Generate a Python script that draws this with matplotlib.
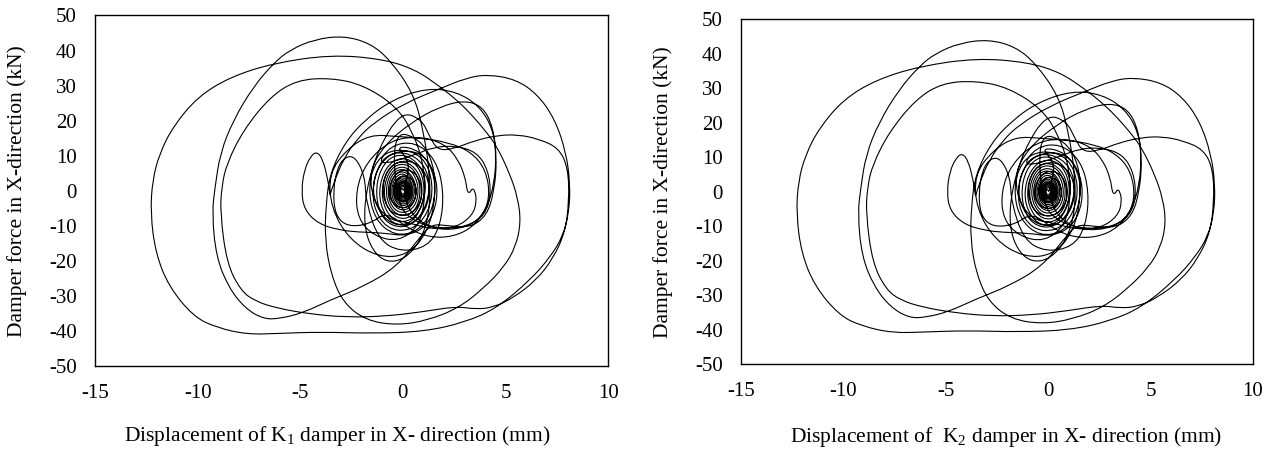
import numpy as np
import matplotlib
matplotlib.use("Agg")
import matplotlib.pyplot as plt
from matplotlib.path import Path
from matplotlib.patches import PathPatch

plt.rcParams["font.family"] = ["Liberation Serif", "DejaVu Serif"]
plt.rcParams["mathtext.fontset"] = "custom"
plt.rcParams["mathtext.rm"] = "Liberation Serif"
plt.rcParams["mathtext.default"] = "regular"
plt.rcParams["axes.unicode_minus"] = False

# displacement (mm) / force (kN) history, read off in pieces
# small cycles growing out of the origin
disp_growth = [0, 0.1, 0.25, 0.15, -0.1, -0.3, -0.2,
               0.05, 0.35, 0.45, 0.2, -0.3, -0.5, -0.35,
               0.05, 0.55, 0.7, 0.4, -0.25, -0.7, -0.6,
               -0.1, 0.6, 0.95, 0.85, 0.25, -0.6, -1.0, -0.9,
               -0.3, 0.7, 1.3, 1.25, 0.6, -0.5, -1.3, -1.5, -1.1,
               -0.3, 0.9, 1.6, 1.7, 1.2, 0.2, -1.0]
force_growth = [0, 1.2, 0.2, -1.3, -1.6, -0.2, 1.8,
                2.8, 1.6, -1.2, -3.0, -2.8, 0.0, 3.0,
                4.6, 3.0, -1.0, -4.6, -5.0, -2.0, 3.0,
                6.2, 5.5, 1.0, -4.0, -7.3, -6.5, -1.5, 4.5,
                8.6, 8.2, 3.0, -4.0, -9.5, -10.0, -5.0, 2.0, 8.0,
                11.5, 11.0, 5.0, -3.0, -10.0, -13.0, -12.0]

# left lobe with the cusp, then the climb to the 33 kN peak
disp_lobe = [-2.2, -3.1, -4.1, -4.8, -4.95, -4.8, -4.5, -4.2, -3.9, -3.65,
             -3.55, -3.55, -3.35, -2.9, -2.2, -1.4, 0.1, 1.84, 3.06, 4.1]
force_lobe = [-11.8, -11.2, -9.5, -5.5, 0.0, 6.0, 9.8, 11.2, 9.0, 3.0,
              -1.2, -1.2, 2.5, 9.0, 15.0, 19.5, 25.0, 29.2, 32.1, 33.2]

# largest cycle: far right side, -40 kN bottom, leftmost branch, 38 kN top
disp_outer = [5.5, 6.56, 7.4, 7.95, 8.15, 8.1, 7.8, 7.17, 6.2, 4.58, 3.0, 1.0,
              -1.5, -4.0, -6.0, -7.6, -9.1, -10.2, -11.4, -12.05, -12.3, -12.2,
              -11.85, -11.2, -10.0, -8.4, -6.3, -3.5, -1.0]
force_outer = [31.8, 27.5, 20.5, 11.0, 2.0, -6.0, -13.0, -19.0, -25.5, -33.5, -37.6, -40.2,
               -40.7, -40.3, -40.7, -41.0, -39.0, -35.9, -27.4, -17.8, -6.4, 3.1,
               10.7, 18.3, 26.8, 32.5, 36.4, 38.8, 37.6]

# descent to the -38 kN bottom and the 29 kN cycle
disp_mid = [0.6, 1.81, 2.7, 3.44, 4.1, 4.58, 5.2, 5.6, 5.75, 5.5, 4.9, 3.9, 2.7, 1.2,
            -0.3, -1.8, -2.9, -3.5, -3.8, -3.75, -3.55, -2.8, -1.8, -0.5, 1.16, 2.62,
            3.76, 4.41, 4.58, 4.45, 4.1, 3.3, 2.2, 1.4]
force_mid = [34.6, 29.7, 25.5, 21.1, 16.5, 12.6, 5.0, -2.0, -9.0, -16.0, -22.0, -28.0, -33.5, -37.0,
             -38.4, -37.0, -32.0, -24.0, -14.0, -4.0, 5.0, 14.0, 20.5, 26.0, 29.3, 28.3,
             24.0, 17.3, 8.8, 0.0, -7.0, -10.5, -10.0, -9.5]

# diagonal down to -37 kN, left branch up to the 44 kN peak
disp_peak = [0.8, -0.3, -1.93, -3.55, -4.85, -6.0, -6.8, -7.7, -8.5, -9.1, -9.3, -9.15,
             -8.9, -8.26, -7.28, -6.3, -5.5, -4.3, -2.9, -1.6, -0.62, 0.51, 1.0, 1.33,
             1.3, 0.9, 0.1, -0.8]
force_peak = [-13.5, -21.7, -27.4, -31.2, -34.8, -36.5, -36.6, -33.5, -27.5, -18.8, -6.4, 1.2,
              10.7, 20.2, 29.7, 36.4, 40.2, 43.2, 44.2, 42.1, 37.3, 27.8, 17.3, 4.0,
              -6.0, -14.0, -19.5, -20.5]

# 23 kN cycle, the 16 kN shoulder on the right, flat -36 kN bottom, 32 kN top
disp_shoulder = [-1.5, -1.9, -1.8, -1.2, -0.1, 0.9, 1.3, 1.7, 2.5, 3.5, 4.6, 5.6, 6.6, 7.6,
                 8.05, 8.1, 7.9, 7.3, 6.5, 5.4, 4.4, 3.55, 2.6, 1.0, -0.8, -2.73, -4.5,
                 -6.15, -7.2, -7.9, -8.58, -8.9, -8.83, -8.58, -7.77, -6.47, -5.17, -3.5,
                 -1.93, -0.3, 0.51, 1.0, 1.1]
force_shoulder = [-17.0, -10.0, 0.0, 12.0, 22.5, 20.5, 15.5, 11.5, 12.0, 14.3, 15.8, 16.0, 14.8, 12.2,
                  6.5, -3.0, -12.0, -19.5, -25.5, -30.5, -33.3, -33.8, -33.0, -34.5, -35.8, -36.1, -35.2,
                  -33.5, -31.5, -28.5, -20.7, -6.4, 1.2, 7.8, 17.3, 26.8, 31.6, 32.2,
                  30.2, 24.0, 16.4, 7.8, -2.0]

# medium cycles: hook near +3 mm, 26 kN top, small left hump, -19 kN bottom,
# the right ring around +2 mm
disp_medium = [0.8, -0.2, -1.4, -2.2, -2.3, -1.8, -0.6, 0.8, 2.0, 2.7, 3.05, 3.12, 3.2,
               3.3, 3.36, 3.5, 3.6, 3.4, 2.6, 1.4, 0.2, -0.8,
               -1.5, -1.6, -0.9, 0.4, 1.8, 3.0, 3.9, 4.4, 4.55, 4.45, 4.1, 3.4, 2.4, 1.3, 0.3,
               -0.8, -1.6, -2.7, -3.3, -3.4, -3.2, -2.8, -2.3, -1.85, -1.8,
               -1.2, -0.1, 1.2, 1.84, 2.0, 1.6, 0.6, -0.6, -1.3,
               0.5, 1.5, 2.6, 3.6, 4.15, 4.3, 4.0, 3.1, 1.8, 0.6, -0.3,
               -0.5, 0.8, 1.5, 1.6, 1.2, 0.2, -1.2, -2.6, -3.5, -3.6, -2.7, -1.6,
               -0.3, 0.9, 2.2, 3.3, 4.05, 4.25, 3.8, 2.8, 1.5, 0.4, 0.0, 0.4]
force_medium = [-10.0, -14.5, -13.0, -8.0, 0.0, 8.0, 14.5, 15.5, 13.5, 9.0, 3.5, 0.2, -0.6,
                -0.3, 0.6, 0.2, -3.0, -7.0, -10.5, -11.0, -9.0, -8.0,
                -2.0, 6.0, 13.0, 19.5, 24.0, 25.8, 24.0, 18.0, 10.0, 2.0, -5.0, -10.5, -13.2, -13.3, -11.0,
                -6.0, -9.5, -10.3, -7.0, 0.0, 6.5, 9.8, 9.6, 4.0, -3.0,
                -14.0, -17.5, -16.0, -10.0, 0.0, 9.0, 14.0, 13.0, 7.0,
                10.0, 12.5, 12.8, 11.0, 6.0, -1.0, -7.0, -10.3, -10.8, -9.0, -4.0,
                17.0, 15.0, 8.0, -2.0, -12.0, -18.5, -19.0, -14.0, -5.0, 5.0, 12.0, 16.0,
                15.5, 15.0, 13.8, 11.2, 6.0, -2.0, -8.0, -11.0, -11.0, -7.0, 0.0, 8.0]

# free decay back into the origin
disp_decay = [-0.4, 0.9, 1.6, 1.5, 0.8, -0.4, -1.4, -1.7, -1.3,
              -0.3, 1.0, 1.5, 1.25, 0.4, -0.8, -1.5, -1.4, -0.9,
              0.1, 1.1, 1.35, 0.9, 0.0, -1.0, -1.35, -1.1, -0.4,
              0.5, 1.15, 1.0, 0.4, -0.5, -1.15, -1.1, -0.5,
              0.4, 1.0, 1.05, 0.5, -0.4, -1.0, -1.0, -0.5,
              0.3, 0.9, 0.95, 0.5, -0.3, -0.9, -0.9, -0.45,
              0.3, 0.8, 0.85, 0.45, -0.3, -0.8, -0.8, -0.4,
              0.25, 0.72, 0.75, 0.35, -0.3, -0.72, -0.7, -0.35,
              0.2, 0.62, 0.65, 0.3, -0.25, -0.62, -0.6, -0.3,
              0.2, 0.55, 0.57, 0.25, -0.22, -0.55, -0.53, -0.25,
              0.15, 0.48, 0.5, 0.22, -0.2, -0.48, -0.46, -0.2,
              0.15, 0.42, 0.44, 0.2, -0.18, -0.42, -0.4, -0.18,
              0.12, 0.37, 0.38, 0.17, -0.15, -0.36, -0.35, -0.15,
              0.1, 0.32, 0.33, 0.15, -0.13, -0.31, -0.3, -0.13,
              0.1, 0.28, 0.28, 0.12, -0.11, -0.27, -0.26, -0.11,
              0.08, 0.24, 0.24, 0.1, -0.1, -0.23, -0.22, -0.1,
              0.07, 0.2, 0.2, 0.08, -0.08, -0.19, -0.18, -0.08,
              0.06, 0.16, 0.16, 0.06, -0.06, -0.15, -0.14, -0.06,
              0.05, 0.12, 0.11, 0.04, -0.05, -0.1, -0.1, -0.03, 0.0]
force_decay = [13.0, 11.5, 4.0, -5.0, -11.5, -13.0, -8.0, 1.0, 9.0,
               12.2, 10.0, 2.0, -6.5, -11.5, -11.0, -4.0, 4.0, 10.0,
               11.3, 7.5, 0.0, -7.5, -11.0, -8.5, -1.0, 6.5, 10.5,
               9.5, 4.0, -4.0, -9.5, -9.8, -4.0, 3.5, 9.0,
               9.2, 4.5, -3.0, -8.5, -9.0, -4.0, 3.0, 8.0,
               8.3, 4.0, -2.5, -7.5, -8.2, -3.5, 2.5, 7.4,
               7.6, 3.5, -2.5, -6.8, -7.2, -3.0, 2.5, 6.6,
               6.8, 3.0, -2.5, -6.0, -6.3, -2.5, 2.5, 6.0,
               6.0, 2.5, -2.0, -5.4, -5.5, -2.2, 2.2, 5.3,
               5.4, 2.3, -1.8, -4.8, -4.9, -2.0, 2.0, 4.7,
               4.8, 2.0, -1.6, -4.2, -4.3, -1.7, 1.8, 4.1,
               4.2, 1.8, -1.4, -3.7, -3.8, -1.5, 1.6, 3.6,
               3.7, 1.5, -1.2, -3.2, -3.3, -1.3, 1.4, 3.1,
               3.2, 1.3, -1.0, -2.8, -2.9, -1.1, 1.2, 2.7,
               2.8, 1.1, -0.9, -2.4, -2.5, -1.0, 1.0, 2.3,
               2.4, 1.0, -0.8, -2.0, -2.1, -0.8, 0.9, 2.0,
               2.0, 0.8, -0.7, -1.7, -1.7, -0.7, 0.7, 1.6,
               1.6, 0.6, -0.5, -1.3, -1.3, -0.5, 0.5, 1.2,
               1.2, 0.4, -0.4, -0.9, -0.9, -0.3, 0.4, 0.8, 0.3]

disp = np.concatenate([disp_growth, disp_lobe, disp_outer, disp_mid, disp_peak,
                       disp_shoulder, disp_medium, disp_decay])
force = np.concatenate([force_growth, force_lobe, force_outer, force_mid, force_peak,
                        force_shoulder, force_medium, force_decay])

x_ticks = [-15, -10, -5, 0, 5, 10]
y_ticks = [-50, -40, -30, -20, -10, 0, 10, 20, 30, 40, 50]

x_labels = ["Displacement of K$_1$ damper in X- direction (mm)",
            "Displacement of  K$_2$ damper in X- direction (mm)"]
y_label = "Damper force in X-direction (kN)"


def smooth_path(xs, ys):
    # quadratic bezier through the midpoints so the loops come out round
    pts = np.column_stack([xs, ys])
    verts = [pts[0]]
    codes = [Path.MOVETO]
    for i in range(1, len(pts) - 1):
        verts += [pts[i], (pts[i] + pts[i + 1]) / 2]
        codes += [Path.CURVE3, Path.CURVE3]
    verts.append(pts[-1])
    codes.append(Path.LINETO)
    return Path(verts, codes)


def draw_panel(ax, xlabel, xlab_pos):
    ax.add_patch(PathPatch(smooth_path(disp, force), facecolor="none",
                           edgecolor="black", lw=0.8))
    ax.set_xlim(-15, 10)
    ax.set_ylim(-50, 50)
    ax.set_xticks(x_ticks)
    ax.set_yticks(y_ticks)
    ax.tick_params(length=0, pad=13, labelsize=15)
    for s in ax.spines.values():
        s.set_linewidth(1.0)
    ax.set_xlabel(xlabel, fontsize=15.5)
    ax.xaxis.set_label_coords(*xlab_pos)
    ax.xaxis.label.set_va("center")
    ax.set_ylabel(y_label, fontsize=15.5)
    ax.yaxis.set_label_coords(-0.153, 0.5)
    ax.yaxis.label.set_va("center")


fig = plt.figure(figsize=(12.69, 4.51), dpi=100)
ax1 = fig.add_axes([0.0749, 0.1885, 0.4043, 0.7772])
ax2 = fig.add_axes([0.5839, 0.1929, 0.4035, 0.7639])
draw_panel(ax1, x_labels[0], (0.472, -0.2))
draw_panel(ax2, x_labels[1], (0.517, -0.211))

fig.savefig("out.png", dpi=100)
